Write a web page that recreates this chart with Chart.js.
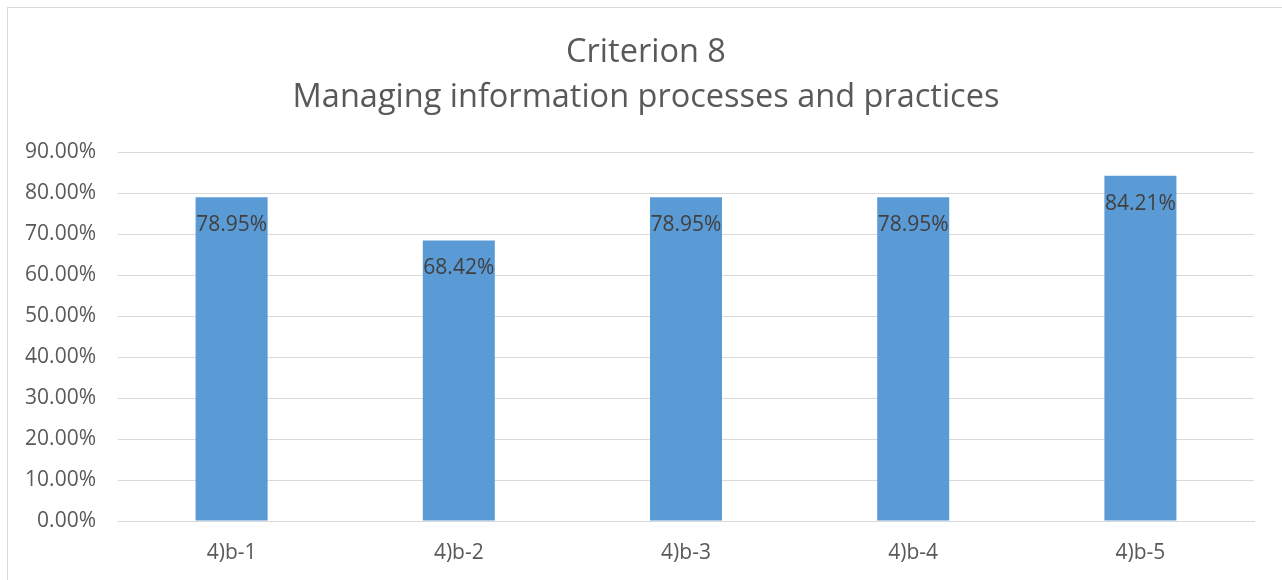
<!DOCTYPE html>
<html>
<head>
<meta charset="utf-8">
<script src="https://cdn.jsdelivr.net/npm/chart.js@4/dist/chart.umd.min.js"></script>
<style>
  html, body { margin: 0; padding: 0; background: #fff; overflow: hidden; }
  #wrap { position: relative; width: 1282px; height: 580px; }
  #frame { position: absolute; left: 7px; top: 7px; width: 1290px; height: 590px; border: 1px solid #d9d9d9; box-sizing: border-box; pointer-events: none; }
</style>
</head>
<body>
<div id="wrap">
  <canvas id="criterionChart" width="1282" height="580"></canvas>
  <div id="frame"></div>
</div>
<script>
const categories = ['4)b-1', '4)b-2', '4)b-3', '4)b-4', '4)b-5'];
const scores = [78.95, 68.42, 78.95, 78.95, 84.21];
const titleLines = ['Criterion 8', 'Managing information processes and practices'];

const fontFamily = "'Open Sans', 'Noto Sans', sans-serif";

// title sits centred on the frame, not on the plot, so it is drawn here
const frameTitle = {
    id: 'frameTitle',
    afterDraw(chart) {
        const ctx = chart.ctx;
        ctx.save();
        ctx.font = `32.5px ${fontFamily}`;
        ctx.fillStyle = '#595959';
        ctx.textAlign = 'center';
        ctx.textBaseline = 'middle';
        const cx = (chart.width + 10) / 2;
        titleLines.forEach((line, i) => {
            ctx.fillText(line, cx, 53 + i * 45);
        });
        ctx.restore();
    }
};

// draws the value text just inside the top of each bar
const barValues = {
    id: 'barValues',
    afterDatasetsDraw(chart) {
        const ctx = chart.ctx;
        const meta = chart.getDatasetMeta(0);
        ctx.save();
        ctx.font = `21px ${fontFamily}`;
        ctx.fillStyle = '#404040';
        ctx.textAlign = 'center';
        ctx.textBaseline = 'middle';
        meta.data.forEach((bar, i) => {
            ctx.fillText(scores[i].toFixed(2) + '%', bar.x, bar.y + 28);
        });
        ctx.restore();
    }
};

const chart = new Chart(document.getElementById('criterionChart'), {
    type: 'bar',
    data: {
        labels: categories,
        datasets: [{
            data: scores,
            backgroundColor: '#5b9bd5',
            barPercentage: 0.317,
            categoryPercentage: 1
        }]
    },
    options: {
        responsive: false,
        animation: false,
        layout: { padding: { left: 10, right: 28, top: 152, bottom: 14 } },
        plugins: {
            legend: { display: false },
            tooltip: { enabled: false },
            title: { display: false }
        },
        scales: {
            x: {
                afterFit(scale) { scale.height = 45; },
                grid: { display: false, drawTicks: false },
                border: { color: '#d9d9d9', width: 1 },
                ticks: { color: '#595959', font: { family: fontFamily, size: 21 }, padding: 19 }
            },
            y: {
                min: 0,
                max: 90,
                afterFit(scale) { scale.width = 108; },
                grid: { color: '#d9d9d9', lineWidth: 1, drawTicks: false },
                border: { display: false },
                ticks: {
                    stepSize: 10,
                    color: '#595959',
                    padding: 22,
                    font: { family: fontFamily, size: 21 },
                    callback: (v) => v.toFixed(2) + '%'
                }
            }
        }
    },
    plugins: [barValues, frameTitle]
});
</script>
</body>
</html>
